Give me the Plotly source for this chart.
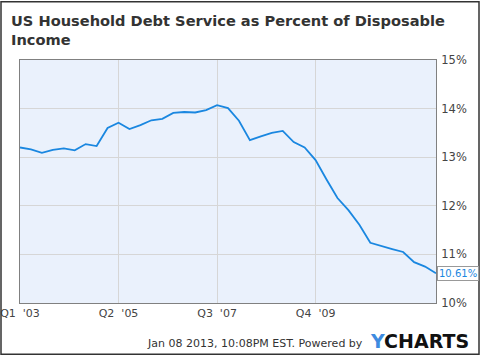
import plotly.graph_objects as go

# ---- data ----
years = list(range(2003, 2013))
quarters = [f"Q{q} '{str(y)[2:]}" for y in years for q in (1, 2, 3, 4)][:39]  # Q1 '03 .. Q3 '12
debt_service_pct = [
    13.20, 13.16, 13.09, 13.15, 13.18, 13.14, 13.27, 13.23,
    13.60, 13.71, 13.58, 13.66, 13.76, 13.79, 13.91, 13.93,
    13.92, 13.97, 14.07, 14.01, 13.75, 13.35, 13.43, 13.50,
    13.54, 13.31, 13.20, 12.94, 12.54, 12.16, 11.91, 11.61,
    11.24, 11.17, 11.11, 11.05, 10.84, 10.75, 10.61,
]
tick_cats = ["Q1 '03", "Q2 '05", "Q3 '07", "Q4 '09"]
tick_text = ["Q1  '03", "Q2  '05", "Q3  '07", "Q4  '09"]
y_ticks = [10, 11, 12, 13, 14, 15]

title_text = "US Household Debt Service as Percent of Disposable<br>Income"
footer_text = "Jan 08 2013, 10:08PM EST. Powered by"

LINE = "#1a87e0"
W, H = 480, 356
L, R, T, B = 20, 44, 59.5, 52.5
pw, ph = W - L - R, H - T - B


def px_x(p):
    return (p - L) / pw


def px_y(p):
    return (H - B - p) / ph


fig = go.Figure()
fig.add_trace(go.Scatter(
    x=quarters, y=debt_service_pct, mode="lines",
    line=dict(color=LINE, width=1.8), hoverinfo="x+y",
))

fig.update_layout(
    width=W, height=H,
    margin=dict(l=L, r=R, t=T, b=B, pad=0, autoexpand=False),
    paper_bgcolor="white",
    plot_bgcolor="#eaf1fc",
    showlegend=False,
    font=dict(family="DejaVu Sans", size=11, color="#444"),
    xaxis=dict(
        type="category", range=[0, len(quarters) - 1],
        tickmode="array", tickvals=tick_cats, ticktext=tick_text,
        showgrid=True, gridcolor="#d6d6d6", gridwidth=1,
        showline=True, linecolor="#808080", linewidth=1, mirror=True,
        ticks="", tickfont=dict(size=11, color="#444"),
        zeroline=False,
    ),
    yaxis=dict(
        side="right", range=[10, 15], tickvals=y_ticks,
        ticktext=[f"{v}%" for v in y_ticks],
        showgrid=True, gridcolor="#d6d6d6", gridwidth=1,
        showline=True, linecolor="#808080", linewidth=1, mirror=True,
        ticks="outside", ticklen=2, tickcolor="rgba(0,0,0,0)",
        tickfont=dict(size=11.5, color="#444"),
        zeroline=False,
    ),
)

# title (two lines)
fig.add_annotation(
    x=px_x(9), xref="paper", y=px_y(9), yref="paper",
    xanchor="left", yanchor="top", align="left", showarrow=False,
    text=title_text,
    font=dict(family="DejaVu Sans", size=14.6, color="#333", weight="bold"),
)

# last value label
last = debt_service_pct[-1]
fig.add_annotation(
    x=1, xref="paper", y=last, yref="y", xanchor="left", yanchor="middle",
    xshift=1, text=f"{last:.2f}%", showarrow=False,
    font=dict(size=10, color=LINE), bgcolor="white",
    bordercolor="#999", borderwidth=1, borderpad=1,
)

# footer
fig.add_annotation(
    x=px_x(365), xref="paper", y=px_y(344), yref="paper",
    xanchor="right", yanchor="middle", showarrow=False,
    text=footer_text, font=dict(size=11, color="#333"),
)
fig.add_annotation(
    x=px_x(368), xref="paper", y=px_y(342), yref="paper",
    xanchor="left", yanchor="middle", showarrow=False,
    text="<span style='color:#3d8be0'>Y</span>CHARTS",
    font=dict(family="DejaVu Sans", size=19, color="#111", weight="bold"),
)

# outer border of the image
fig.add_shape(
    type="rect", xref="paper", yref="paper",
    x0=px_x(1), x1=px_x(W - 1), y0=px_y(H - 1), y1=px_y(1),
    line=dict(color="#333", width=1.5), fillcolor="rgba(0,0,0,0)", layer="above",
)

fig.write_html(
    "out.html",
    config={"displayModeBar": False},
    post_script="document.body.style.margin='0';document.body.style.overflow='hidden';",
)
